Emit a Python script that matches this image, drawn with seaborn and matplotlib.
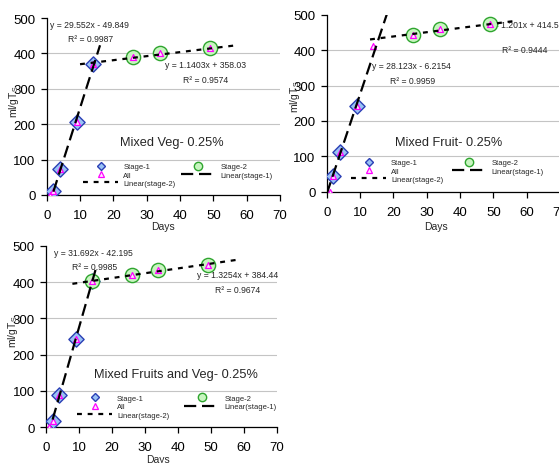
import matplotlib
matplotlib.use('Agg')
import matplotlib.pyplot as plt
from matplotlib.lines import Line2D
import seaborn as sns
import pandas as pd
import numpy as np

sns.set_theme(style='white')
plt.rcParams['font.family'] = ['Liberation Sans', 'DejaVu Sans']
plt.rcParams['mathtext.fontset'] = 'custom'
plt.rcParams['mathtext.rm'] = 'Liberation Sans'

# ---- data ----
days = [1, 2, 4, 9, 14, 26, 34, 49]

veg_all = [0, 10, 73, 207, 370, 390, 401, 414]
fruit_all = [0, 45, 113, 243, 412, 444, 460, 475]
fv_all = [0, 18, 90, 243, 402, 420, 433, 447]

# days used for each stage
veg_s1_days = [2, 4, 9, 14]
veg_s2_days = [26, 34, 49]
fruit_s1_days = [2, 4, 9]
fruit_s2_days = [26, 34, 49]
fv_s1_days = [2, 4, 9, 14]
fv_s2_days = [14, 26, 34, 49]

# excel trendlines (slope, intercept) and the day span they were drawn over
veg_fit1 = [29.552, -49.849]
veg_fit2 = [1.1403, 358.03]
fruit_fit1 = [28.123, -6.2154]
fruit_fit2 = [1.201, 414.5]
fv_fit1 = [31.692, -42.195]
fv_fit2 = [1.3254, 384.44]

veg_span1, veg_span2 = [2, 16], [10, 56]
fruit_span1, fruit_span2 = [0, 20], [13, 57]
fv_span1, fv_span2 = [2, 15], [8, 58]

veg_r2 = ['0.9987', '0.9574']
fruit_r2 = ['0.9959', '0.9444']
fv_r2 = ['0.9985', '0.9674']

titles = ['Mixed Veg- 0.25%', 'Mixed Fruit- 0.25%', 'Mixed Fruits and Veg- 0.25%']

# colours
DIA_FC, DIA_EC = '#99c2f5', '#2b3fb5'
CIR_FC, CIR_EC = '#c8f5c0', '#2fa52f'
TRI_FC, TRI_EC = '#ffe4ff', '#ff00ff'
LONG_DASH = (0, (5.5, 2.6))
SHORT_DASH = (0, (2.2, 2.6))

W, H = 559, 464
fig = plt.figure(figsize=(W / 100, H / 100), dpi=100)


def px_axes(x0, x1, ytop, ybot):
    return fig.add_axes([x0 / W, 1 - ybot / H, (x1 - x0) / W, (ybot - ytop) / H])


def fmt_eq(fit):
    a, b = fit
    sign = '+' if b >= 0 else '-'
    return 'y = {}x {} {}'.format(f'{a:g}', sign, f'{abs(b):g}')


def draw_panel(ax, allv, s1d, s2d, fit1, fit2, span1, span2, r2, title, txt, leg):
    df = pd.DataFrame({'day': days, 'val': allv})
    s1 = df[df['day'].isin(s1d)]
    s2 = df[df['day'].isin(s2d)]

    sns.scatterplot(data=s1, x='day', y='val', marker='D', s=60, color=DIA_FC,
                    edgecolor=DIA_EC, linewidth=1.0, ax=ax, zorder=3)
    sns.scatterplot(data=s2, x='day', y='val', marker='o', s=105, color=CIR_FC,
                    edgecolor=CIR_EC, linewidth=1.0, ax=ax, zorder=4)
    sns.scatterplot(data=df, x='day', y='val', marker='^', s=18, color=TRI_FC,
                    edgecolor=TRI_EC, linewidth=0.9, ax=ax, zorder=5)

    x1 = np.array(span1, dtype=float)
    x2 = np.array(span2, dtype=float)
    sns.lineplot(x=x1, y=fit1[0] * x1 + fit1[1], color='black', lw=1.6,
                 linestyle=LONG_DASH, ax=ax, zorder=6)
    sns.lineplot(x=x2, y=fit2[0] * x2 + fit2[1], color='black', lw=1.6,
                 linestyle=SHORT_DASH, ax=ax, zorder=6)

    ax.set_xlim(0, 70)
    ax.set_ylim(0, 500)
    ax.set_xticks(range(0, 71, 10))
    ax.set_yticks(range(0, 501, 100))
    ax.yaxis.grid(True, color='#c4c4c4', lw=0.8)
    ax.xaxis.grid(False)
    ax.get_ygridlines()[-1].set_visible(False)
    ax.set_axisbelow(True)
    for sp in ['top', 'right']:
        ax.spines[sp].set_visible(False)
    for sp in ['left', 'bottom']:
        ax.spines[sp].set_color('black')
        ax.spines[sp].set_linewidth(0.9)
    ax.tick_params(axis='both', direction='out', length=4, width=0.9, colors='black',
                   labelsize=9.5, left=True, bottom=True)
    ax.tick_params(axis='x', pad=6)
    ax.tick_params(axis='y', pad=4)

    ax.set_xlabel('Days', fontsize=7.5)
    ax.xaxis.set_label_coords(txt['days'][0], txt['days'][1])
    ax.set_ylabel('ml/gT$_\\mathregular{S}$', fontsize=7.5)
    ax.yaxis.set_label_coords(txt['ylab'][0], txt['ylab'][1])

    eqs = [fmt_eq(fit1), 'R\u00b2 = ' + r2[0], fmt_eq(fit2), 'R\u00b2 = ' + r2[1]]
    for s, (tx, ty) in zip(eqs, txt['eq']):
        ax.text(tx, ty, s, transform=ax.transAxes, fontsize=6.2, ha='left', va='center',
                clip_on=False)
    ax.text(txt['title'][0], txt['title'][1], title, transform=ax.transAxes,
            fontsize=9.2, ha='center', va='center')

    handles = [
        Line2D([], [], ls='none', marker='D', ms=4.4, mfc=DIA_FC, mec=DIA_EC, mew=1.0),
        Line2D([], [], ls='none', marker='^', ms=4, mfc=TRI_FC, mec=TRI_EC, mew=0.9),
        Line2D([], [], color='black', lw=1.6, ls=SHORT_DASH),
        Line2D([], [], ls='none', marker='o', ms=6, mfc=CIR_FC, mec=CIR_EC, mew=1.0),
        Line2D([], [], color='black', lw=1.6, ls=LONG_DASH),
    ]
    labels = ['Stage-1', 'All', 'Linear(stage-2)', 'Stage-2', 'Linear(stage-1)']
    ax.legend(handles, labels, ncol=2, loc='upper left', bbox_to_anchor=leg['anchor'],
              frameon=False, fontsize=5.5, borderpad=0, borderaxespad=0,
              handlelength=4.6, handletextpad=0.65, labelspacing=0.12,
              columnspacing=leg['colsp'])


ax1 = px_axes(46.7, 280, 19, 196)
ax2 = px_axes(326.7, 560, 15.7, 192.7)
ax3 = px_axes(46, 277, 246.7, 428.3)

draw_panel(ax1, veg_all, veg_s1_days, veg_s2_days, veg_fit1, veg_fit2, veg_span1, veg_span2,
           veg_r2, titles[0],
           {'eq': [(0.014, 0.966), (0.091, 0.887), (0.506, 0.740), (0.583, 0.655)],
            'title': (0.538, 0.299), 'days': (0.50, -0.147), 'ylab': (-0.112, 0.533)},
           {'anchor': (0.156, 0.180), 'colsp': 0.7})

draw_panel(ax2, fruit_all, fruit_s1_days, fruit_s2_days, fruit_fit1, fruit_fit2, fruit_span1,
           fruit_span2, fruit_r2, titles[1],
           {'eq': [(0.193, 0.712), (0.271, 0.627), (0.688, 0.947), (0.75, 0.806)],
            'title': (0.521, 0.283), 'days': (0.468, -0.167), 'ylab': (-0.106, 0.542)},
           {'anchor': (0.104, 0.184), 'colsp': 1.1})

draw_panel(ax3, fv_all, fv_s1_days, fv_s2_days, fv_fit1, fv_fit2, fv_span1, fv_span2,
           fv_r2, titles[2],
           {'eq': [(0.035, 0.964), (0.111, 0.887), (0.652, 0.840), (0.732, 0.758)],
            'title': (0.564, 0.293), 'days': (0.486, -0.147), 'ylab': (-0.112, 0.532)},
           {'anchor': (0.134, 0.179), 'colsp': 2.0})

fig.savefig('out.png', dpi=100)
